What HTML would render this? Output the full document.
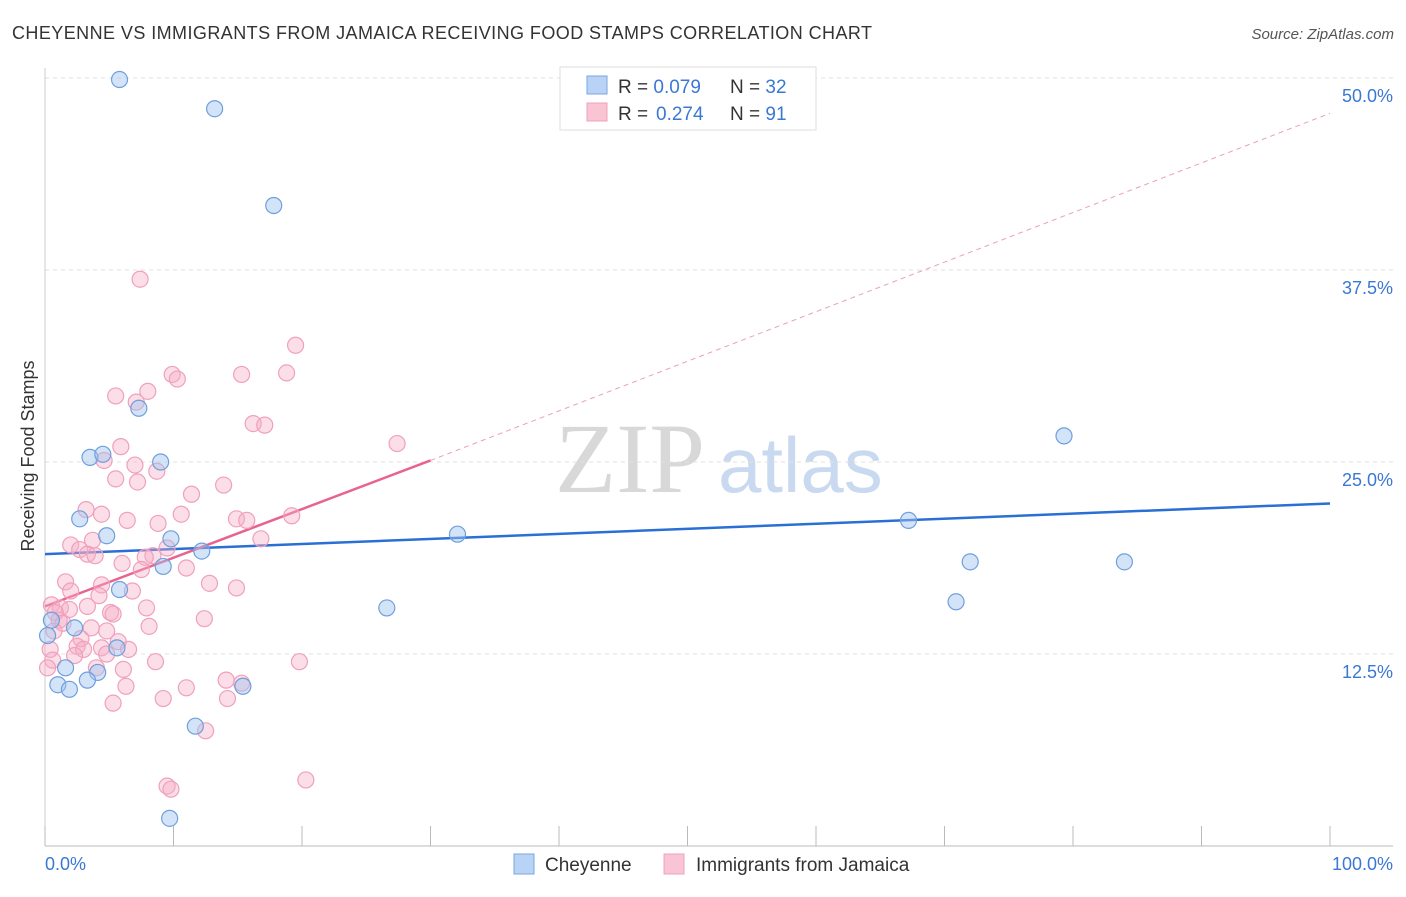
<!DOCTYPE html>
<html><head><meta charset="utf-8"><style>
body{margin:0;background:#fff;font-family:"Liberation Sans",sans-serif;}
#c{position:relative;width:1406px;height:892px;}
</style></head><body>
<div id="c">
<svg id="s" width="1406" height="892" xmlns="http://www.w3.org/2000/svg">
<text x="12" y="39" font-size="18" fill="#333" textLength="860" lengthAdjust="spacing">CHEYENNE VS IMMIGRANTS FROM JAMAICA RECEIVING FOOD STAMPS CORRELATION CHART</text>
<text x="1394" y="39" font-size="15" fill="#555" font-style="italic" text-anchor="end">Source: ZipAtlas.com</text>
<text x="34" y="456" font-size="18" fill="#333" text-anchor="middle" transform="rotate(-90 34 456)">Receiving Food Stamps</text>
<text x="555" y="492" font-size="100" fill="#d8d8d8" font-family="Liberation Serif,serif">ZIP</text>
<text x="718" y="492" font-size="78" fill="#c8d9f0">atlas</text>
<g id="grid"></g><g id="axes"></g><g id="lines"></g><g id="pts"></g>
<g>
<rect x="560" y="67" width="256" height="63" fill="#fff" stroke="#ddd"/>
<rect x="587" y="76" width="20" height="18" fill="#b8d3f5" stroke="#7aa6e0"/>
<rect x="587" y="103" width="20" height="18" fill="#f9c4d3" stroke="#f0a0bc"/>
<text x="618" y="93" font-size="19" fill="#333">R = <tspan fill="#3a78d4">0.079</tspan><tspan x="730">N = </tspan><tspan fill="#3a78d4">32</tspan></text>
<text x="618" y="120" font-size="19" fill="#333">R = <tspan fill="#3a78d4" x="656">0.274</tspan><tspan x="730">N = </tspan><tspan fill="#3a78d4">91</tspan></text>
</g>
<g>
<rect x="514" y="854" width="20" height="20" fill="#b8d3f5" stroke="#7aa6e0"/>
<text x="545" y="871" font-size="19" fill="#333">Cheyenne</text>
<rect x="664" y="854" width="20" height="20" fill="#f9c4d3" stroke="#f0a0bc"/>
<text x="696" y="871" font-size="19" fill="#333">Immigrants from Jamaica</text>
</g>
<text x="45" y="870" font-size="18" fill="#3a78d4">0.0%</text>
<text x="1393" y="870" font-size="18" fill="#3a78d4" text-anchor="end">100.0%</text>
</svg></div>
<script>
const yTicks=[12.5,25,37.5,50];
const yTickLabels=["12.5%","25.0%","37.5%","50.0%"];
const xTicks=[0,10,20,30,40,50,60,70,80,90,100];
const blueX=[5.8,13.2,17.8,7.3,3.5,4.5,9.0,2.7,4.8,9.8,12.2,9.2,5.8,0.5,2.3,0.2,1.6,4.1,3.3,1.0,1.9,5.6,15.4,11.7,9.7,26.6,32.1,67.2,79.3,72.0,84.0,70.9];
const blueY=[49.9,48.0,41.7,28.5,25.3,25.5,25.0,21.3,20.2,20.0,19.2,18.2,16.7,14.7,14.2,13.7,11.6,11.3,10.8,10.5,10.2,12.9,10.4,7.8,1.8,15.5,20.3,21.2,26.7,18.5,18.5,15.9];
const pinkX=[7.4,19.5,9.9,10.3,15.3,18.8,8.0,5.5,7.1,16.2,17.1,5.9,27.4,4.6,7.0,8.7,5.5,7.2,13.9,11.4,3.2,4.4,10.6,6.4,8.8,14.9,15.7,19.2,3.7,2.0,16.8,2.7,9.5,3.3,3.9,8.4,7.8,6.0,7.5,11.0,1.6,4.4,12.8,14.9,2.0,6.8,4.2,0.5,1.2,1.9,0.8,3.3,5.1,5.3,7.9,1.1,1.4,8.1,12.4,0.7,4.8,3.6,2.8,2.5,5.7,4.4,3.0,6.5,4.8,0.4,0.6,2.3,8.6,19.8,4.0,6.1,0.2,14.1,6.3,11.0,15.3,9.2,5.3,14.2,12.5,9.5,9.8,20.3];
const pinkY=[36.9,32.6,30.7,30.4,30.7,30.8,29.6,29.3,28.9,27.5,27.4,26.0,26.2,25.1,24.8,24.4,23.9,23.7,23.5,22.9,21.9,21.6,21.6,21.2,21.0,21.3,21.2,21.5,19.9,19.6,20.0,19.3,19.4,19.0,18.9,18.9,18.8,18.4,18.0,18.1,17.2,17.0,17.1,16.8,16.6,16.6,16.3,15.7,15.5,15.4,15.2,15.6,15.2,15.1,15.5,14.7,14.5,14.3,14.8,14.0,14.0,14.2,13.5,13.0,13.3,12.9,12.8,12.8,12.5,12.8,12.1,12.4,12.0,12.0,11.6,11.5,11.6,10.8,10.4,10.3,10.6,9.6,9.3,9.6,7.5,3.9,3.7,4.3];
const blueFit=[19.0,22.3];
const pinkFit=[15.6,25.1,47.7];
const X=v=>45+v*12.85, Y=v=>846-v*15.36;
const NS="http://www.w3.org/2000/svg";
function mk(t,a,p){const e=document.createElementNS(NS,t);for(const k in a)e.setAttribute(k,a[k]);document.getElementById(p).appendChild(e);return e;}
yTicks.forEach((t,i)=>{
 const g=mk("line",{x1:45,x2:1393,y1:Y(t),y2:Y(t),stroke:"#e2e2e2","stroke-dasharray":"4,4"},"grid");
 
 
 const l=mk("text",{x:1393,y:Y(t)+24,"font-size":18,fill:"#3a78d4","text-anchor":"end"},"grid");
 l.textContent=yTickLabels[i];
 
 
});
const ax=mk("line",{x1:45,x2:1393,y1:846,y2:846,stroke:"#bbb"},"axes");


const ay=mk("line",{x1:45,x2:45,y1:68,y2:846,stroke:"#ccc"},"axes");


xTicks.forEach(t=>{
 const e=mk("line",{x1:X(t),x2:X(t),y1:826,y2:846,stroke:"#bbb"},"axes");
 
 
});
const bl=mk("line",{x1:X(0),y1:Y(blueFit[0]),x2:X(100),y2:Y(blueFit[1]),stroke:"#2a6fd6","stroke-width":2.5},"lines");


const pl=mk("line",{x1:X(0),y1:Y(pinkFit[0]),x2:X(30),y2:Y(pinkFit[1]),stroke:"#e8648f","stroke-width":2.5},"lines");


const pd=mk("line",{x1:X(30),y1:Y(pinkFit[1]),x2:X(100),y2:Y(pinkFit[2]),stroke:"#eaa0b8","stroke-width":1,"stroke-dasharray":"5,4"},"lines");


pinkX.forEach((v,i)=>{
 const c=mk("circle",{cx:X(v),cy:Y(pinkY[i]),r:8,fill:"rgba(246,172,197,0.4)",stroke:"#f0a0bc","stroke-width":1.2},"pts");
 
 
});
blueX.forEach((v,i)=>{
 const c=mk("circle",{cx:X(v),cy:Y(blueY[i]),r:8,fill:"rgba(160,196,240,0.45)",stroke:"#6f9fdc","stroke-width":1.2},"pts");
 
 
});
</script>
</body></html>
